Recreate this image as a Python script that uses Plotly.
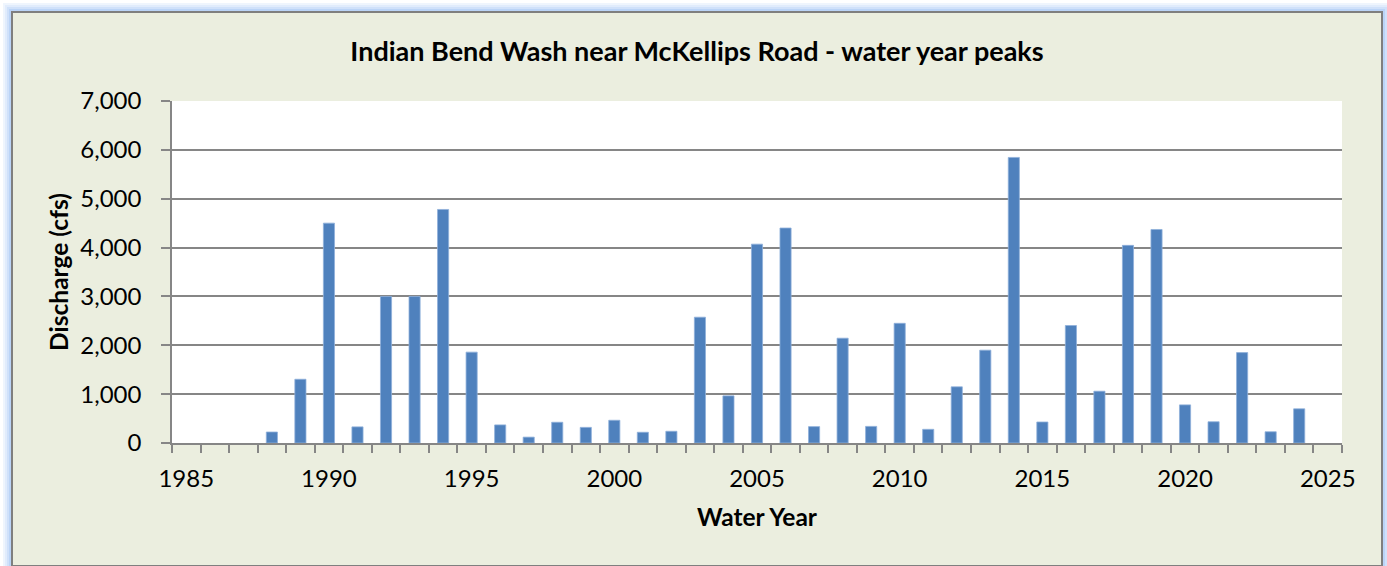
import plotly.graph_objects as go

years = list(range(1985, 2025))
peaks = [None, None, None, 225, 1305, 4500, 330, 3000, 3000, 4780, 1860,
         370, 120, 425, 320, 465, 220, 240, 2575, 965, 4070, 4400, 335,
         2145, 340, 2450, 280, 1150, 1900, 5845, 430, 2405, 1060, 4045, 4370,
         780, 435, 1850, 230, 700]
x_ticks = [1985, 1990, 1995, 2000, 2005, 2010, 2015, 2020, 2025]
y_ticks = [0, 1000, 2000, 3000, 4000, 5000, 6000, 7000]

W, H = 1387, 566
L, R, T, B = 172, 1342, 101, 443
FONT = "Lato"
GRID = "#868686"
BG = "#EBEEDF"


def px2x(px):
    return (px - L) / (R - L)


def px2y(py):
    return (B - py) / (B - T)


shapes = []
# outer glow
for i, a in enumerate([0.5, 0.35, 0.22, 0.12]):
    off = 2 + 2 * i
    shapes.append(dict(type="rect", xref="paper", yref="paper", layer="below",
                       x0=px2x(12 - off), x1=px2x(1382 + off),
                       y0=px2y(566 + off), y1=px2y(12 - off),
                       line=dict(color=f"rgba(120,170,240,{a})", width=2),
                       fillcolor="rgba(0,0,0,0)"))
# chart area
shapes.append(dict(type="rect", xref="paper", yref="paper", layer="below",
                   x0=px2x(12), x1=px2x(1382), y0=px2y(566), y1=px2y(12),
                   line=dict(color="#7F7F7F", width=2), fillcolor=BG))
# plot area
shapes.append(dict(type="rect", xref="paper", yref="paper", layer="below",
                   x0=0, x1=1, y0=0, y1=1,
                   line=dict(width=0), fillcolor="white"))

fig = go.Figure()
fig.add_trace(go.Bar(x=years, y=peaks, width=0.39,
                     marker=dict(color="#4F81BD",
                                 line=dict(color="#8FB0DA", width=0.8))))

fig.update_layout(
    width=W, height=H,
    margin=dict(l=L, r=W - R, t=T, b=H - B, pad=0),
    paper_bgcolor="white",
    plot_bgcolor="rgba(0,0,0,0)",
    showlegend=False,
    shapes=shapes,
    font=dict(family=FONT, color="black"),
    title=dict(text="<b>Indian Bend Wash near McKellips Road - water year peaks</b>",
               x=697 / W, xanchor="center", y=1 - 52 / H, yanchor="middle",
               font=dict(family=FONT, size=27, color="black")),
    xaxis=dict(range=[1984.5, 2025.5], tickmode="array", tickvals=x_ticks,
               ticks="", ticklen=0, showgrid=False, zeroline=False,
               showline=True, linecolor=GRID, linewidth=1.5,
               tickfont=dict(family=FONT, size=24), ticklabelstandoff=13,
               minor=dict(tickmode="linear", tick0=0.5, dtick=1,
                          ticks="outside", ticklen=8, tickcolor=GRID,
                          tickwidth=1.5, showgrid=False),
               title=dict(text="<b>Water Year</b>", standoff=18,
                          font=dict(family=FONT, size=24.5))),
    yaxis=dict(range=[0, 7000], tickmode="array", tickvals=y_ticks,
               tickformat=",", ticks="outside", ticklen=9, tickcolor=GRID,
               tickwidth=1.5, showgrid=True, gridcolor=GRID, gridwidth=1.5,
               zeroline=False, showline=True, linecolor=GRID, linewidth=1.5,
               tickfont=dict(family=FONT, size=24), ticklabelstandoff=15,
               title=dict(text="<b>Discharge (cfs)</b>", standoff=5,
                          font=dict(family=FONT, size=24.5))),
)

fig.write_html("out.html", config={"displayModeBar": False},
               post_script="document.body.style.margin='0';document.body.style.padding='0';")
